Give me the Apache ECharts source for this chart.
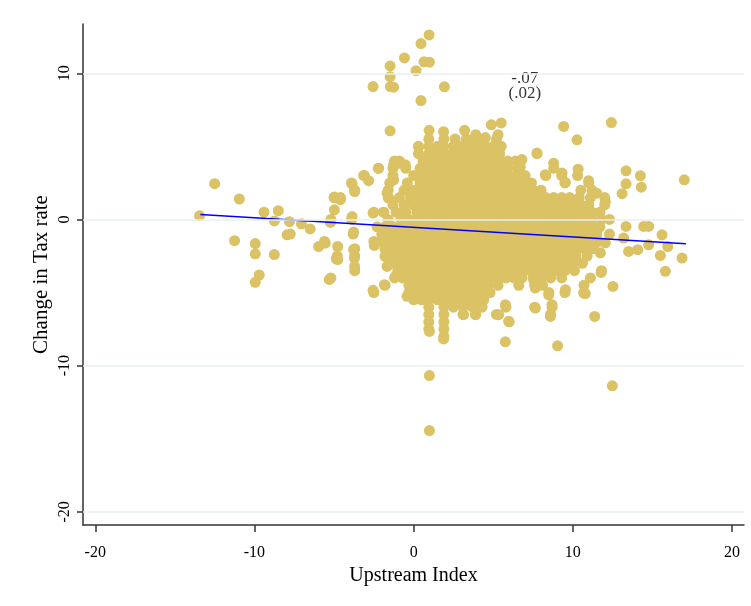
<!DOCTYPE html>
<html>
<head>
<meta charset="utf-8">
<script src="https://cdn.jsdelivr.net/npm/echarts@6/dist/echarts.min.js"></script>
<style>
html,body{margin:0;padding:0;background:#fff;}
#chart{width:751px;height:606px;}
</style>
</head>
<body>
<div id="chart"></div>
<script>
// ---- tick labels ----
const xTicks = [-20, -10, 0, 10, 20];
const yTicks = [-20, -10, 0, 10];

// ---- dense core of the cloud: rows of [y, [x values]] ----
const coreRows = [
  [5.5, [0.95, 1.9, 2.6, 3.3, 3.8, 4.4, 5.2]],
  [5.0, [0.3, 0.95, 1.5, 1.9, 2.5, 3.0, 3.5, 4.0, 4.5, 5.0, 5.5]],
  [4.5, [0.3, 0.95, 1.4, 1.9, 2.4, 2.9, 3.4, 3.9, 4.4, 4.9, 5.4, 7.75]],
  [4.0, [-1.2, -0.9, 0.6, 1.0, 1.5, 1.9, 2.4, 2.9, 3.4, 3.9, 4.4, 4.9, 5.4, 5.9, 6.4]],
  [3.5, [-2.2, -1.3, -0.5, 0.4, 0.9, 1.4, 1.9, 2.4, 2.9, 3.4, 3.9, 4.4, 4.9, 5.4, 5.9, 6.5, 8.8]],
  [3.0, [-3.1, -1.3, 0, 0.5, 1.0, 1.5, 2.0, 2.5, 3.0, 3.5, 4.0, 4.5, 5.0, 5.5, 6.0, 6.5, 7.0, 8.3, 9.3, 10.3]],
  [2.5, [-3.9, -1.5, -0.4, 0.4, 0.9, 1.4, 1.9, 2.4, 2.9, 3.4, 3.9, 4.4, 4.9, 5.4, 5.9, 6.4, 6.9, 7.4, 9.5, 11.0]],
  [2.0, [-3.7, -1.6, -0.6, 0, 0.5, 1.0, 1.5, 2.0, 2.5, 3.0, 3.5, 4.0, 4.5, 5.0, 5.5, 6.0, 6.5, 7.0, 7.5, 8.0, 10.5, 11.2]],
  [1.5, [-5.0, -4.6, -1.6, -0.9, -0.2, 0.3, 0.8, 1.3, 1.8, 2.3, 2.8, 3.3, 3.8, 4.3, 4.8, 5.3, 5.8, 6.3, 6.8, 7.3, 7.8, 8.3, 8.8, 9.3, 9.8, 10.4, 11.1, 12.0]],
  [1.0, [-1.3, -0.6, 0, 0.5, 1.0, 1.5, 2.0, 2.5, 3.0, 3.5, 4.0, 4.5, 5.0, 5.5, 6.0, 6.5, 7.0, 7.5, 8.0, 8.5, 9.0, 9.5, 10.0, 10.5, 11.0, 12.0]],
  [0.5, [-2.5, -1.9, -1.1, -0.5, 0.2, 0.7, 1.2, 1.7, 2.2, 2.7, 3.2, 3.7, 4.2, 4.7, 5.2, 5.7, 6.2, 6.7, 7.2, 7.7, 8.2, 8.7, 9.2, 9.7, 10.2, 10.7, 11.2, 11.7]],
  [0.0, [-5.2, -3.9, -1.6, -0.8, -0.3, 0.2, 0.7, 1.2, 1.7, 2.2, 2.7, 3.2, 3.7, 4.2, 4.7, 5.2, 5.7, 6.2, 6.7, 7.2, 7.7, 8.2, 8.7, 9.2, 9.7, 10.2, 10.7, 11.2, 11.8, 12.3]],
  [-0.5, [-2.3, -1.8, -1.3, -0.8, -0.3, 0.2, 0.7, 1.2, 1.7, 2.2, 2.7, 3.2, 3.7, 4.2, 4.7, 5.2, 5.7, 6.2, 6.7, 7.2, 7.7, 8.2, 8.7, 9.2, 9.7, 10.2, 10.7, 11.2, 11.7]],
  [-1.0, [-3.8, -2.0, -1.5, -1.0, -0.5, 0, 0.5, 1.0, 1.5, 2.0, 2.5, 3.0, 3.5, 4.0, 4.5, 5.0, 5.5, 6.0, 6.5, 7.0, 7.5, 8.0, 8.5, 9.0, 9.5, 10.0, 10.5, 11.0, 11.5, 12.3]],
  [-1.5, [-5.6, -2.5, -2.0, -1.5, -1.0, -0.5, 0, 0.5, 1.0, 1.5, 2.0, 2.5, 3.0, 3.5, 4.0, 4.5, 5.0, 5.5, 6.0, 6.5, 7.0, 7.5, 8.0, 8.5, 9.0, 9.5, 10.0, 10.5, 11.0, 11.6]],
  [-2.0, [-3.7, -1.8, -1.3, -0.8, -0.3, 0.2, 0.7, 1.2, 1.7, 2.2, 2.7, 3.2, 3.7, 4.2, 4.7, 5.2, 5.7, 6.2, 6.7, 7.2, 7.7, 8.2, 8.7, 9.2, 9.7, 10.2, 10.7, 11.3]],
  [-2.5, [-4.8, -3.7, -1.8, -1.3, -0.8, -0.3, 0.2, 0.7, 1.2, 1.7, 2.2, 2.7, 3.2, 3.7, 4.2, 4.7, 5.2, 5.7, 6.2, 6.7, 7.2, 7.7, 8.2, 8.7, 9.2, 9.7, 10.2, 10.9]],
  [-3.0, [-1.5, -1.0, -0.5, 0, 0.5, 1.0, 1.5, 2.0, 2.5, 3.0, 3.5, 4.0, 4.5, 5.0, 5.5, 6.0, 6.5, 7.0, 7.5, 8.0, 8.5, 9.0, 9.5, 10.0, 10.6]],
  [-3.5, [-3.7, -1.0, -0.5, 0, 0.5, 1.0, 1.5, 2.0, 2.5, 3.0, 3.5, 4.0, 4.5, 5.0, 5.5, 6.0, 6.5, 7.0, 7.5, 8.0, 8.5, 9.0, 9.5, 10.1, 11.8]],
  [-4.0, [-5.2, -1.2, -0.7, -0.2, 0.3, 0.8, 1.3, 1.8, 2.3, 2.8, 3.3, 3.8, 4.3, 4.8, 5.3, 5.8, 6.3, 6.8, 7.5, 8.0, 8.6, 9.3, 11.1]],
  [-4.5, [-1.8, -0.3, 0.2, 0.7, 1.2, 1.7, 2.2, 2.7, 3.2, 3.7, 4.2, 4.7, 5.3, 6.6, 7.6, 8.1, 10.7]],
  [-5.0, [-2.5, -0.3, 0.2, 0.7, 1.2, 1.7, 2.2, 2.7, 3.2, 3.7, 4.2, 4.8, 8.5, 9.5, 10.7]],
  [-5.5, [0.0, 0.5, 0.95, 1.5, 1.9, 2.4, 2.9, 3.4, 3.9, 4.4]],
  [-6.0, [0.95, 1.9, 2.5, 3.1, 3.7, 4.3, 5.8, 7.6, 8.7]],
  [-6.5, [0.95, 1.9, 3.1, 3.9, 5.2, 8.6]],
  [-7.0, [0.95, 1.9, 6.0]],
  [-7.5, [0.95, 1.9]],
  [-8.0, [1.9]]
];

// ---- scattered observations outside the core ----
const leftPoints = [
  [-13.45, 0.25], [-12.5, 2.45], [-10.95, 1.4], [-11.25, -1.45], [-9.95, -1.65], [-9.95, -2.35],
  [-9.7, -3.8], [-9.95, -4.3], [-9.4, 0.5], [-8.5, 0.6], [-8.75, -0.1], [-8.75, -2.4],
  [-7.8, -0.15], [-7.95, -1.05], [-7.75, -1.0], [-7.05, -0.3], [-6.5, -0.65], [-5.97, -1.85],
  [-5.55, -1.61], [-5.3, -4.1], [-4.98, 1.53], [-4.6, 1.35], [-4.98, 0.66], [-5.23, -0.2],
  [-4.77, -1.85], [-4.86, -2.69], [-4.77, -2.75], [-3.87, 0.2], [-3.77, -0.86], [-3.77, -2.07],
  [-3.72, -2.64], [-3.71, -3.21], [-3.87, 2.42], [-3.71, 1.91], [-3.14, 3.01], [-2.83, 2.65],
  [-2.22, 3.51], [-2.55, 0.44], [-1.88, 0.5], [-2.47, -1.78], [-1.98, -1.07], [-1.67, 1.8],
  [-1.57, 1.46], [-1.26, 3.74], [-0.94, 3.85], [-0.52, 3.74], [-1.26, 2.71], [-1.78, -2.53],
  [-1.67, -3.21], [-1.46, -2.98], [-1.15, -3.9], [-0.73, -3.66], [-2.55, -4.85], [-1.84, -4.46],
  [-0.42, -5.26], [-0.17, -4.69]
];
const topPoints = [
  [0.97, 12.62], [0.46, 12.03], [-0.58, 11.05], [-1.48, 10.5], [-1.48, 9.77], [-1.46, 9.09],
  [-1.26, 9.05], [-2.55, 9.09], [0.15, 10.18], [0.65, 10.78], [0.99, 10.76], [1.93, 9.07],
  [0.46, 8.13], [-1.48, 6.06], [0.31, 4.95], [0.97, 6.1], [1.88, 6.0], [3.2, 6.1],
  [3.9, 5.8], [4.5, 5.6], [4.88, 6.47], [5.5, 6.6], [5.3, 5.8]
];
const rightPoints = [
  [9.42, 6.36], [10.26, 5.45], [12.42, 6.63], [7.75, 4.54], [8.79, 3.85], [8.27, 3.06],
  [9.32, 3.17], [9.53, 2.53], [10.33, 3.44], [10.99, 2.65], [13.34, 3.33], [14.24, 2.99],
  [14.3, 2.21], [13.34, 2.44], [13.09, 1.76], [17.0, 2.71], [12.04, 1.19], [11.5, 1.8],
  [6.8, 4.1], [6.7, 3.6], [13.34, -0.48], [14.45, -0.48], [14.76, -0.48], [15.6, -1.05],
  [13.19, -1.27], [13.5, -2.19], [14.07, -2.07], [14.76, -1.73], [15.5, -2.46], [15.96, -1.85],
  [16.86, -2.64], [15.81, -3.55], [11.77, -3.62], [12.52, -4.58], [10.78, -5.08], [11.37, -6.63],
  [12.04, -1.6], [11.73, -2.28]
];
const bottomPoints = [
  [12.48, -11.38], [9.04, -8.64], [5.76, -8.37], [0.99, -10.68], [0.99, -14.44], [8.59, -6.63],
  [7.64, -6.06], [8.69, -5.83], [8.48, -5.15], [7.64, -4.69], [7.54, -4.12], [9.53, -4.8],
  [10.68, -5.03], [5.97, -6.97], [5.34, -6.51], [5.76, -5.83], [3.88, -6.51], [3.14, -6.51],
  [0.99, -7.66], [1.88, -8.17]
];

// ---- fitted line and its annotation ----
const fitLine = [[-13.4, 0.34], [17.1, -1.66]];
const slopeText = ['-.07', '(.02)'];
const slopePos = [[6.98, 9.62], [6.98, 8.59]];

// ---- build point list ----
const corePoints = [];
coreRows.forEach(function (r) { r[1].forEach(function (x) { corePoints.push([x, r[0]]); }); });
const allPoints = corePoints.concat(leftPoints, topPoints, rightPoints, bottomPoints);

const serif = '"Liberation Serif", "DejaVu Serif", serif';
const chart = echarts.init(document.getElementById('chart'), null, { renderer: 'canvas' });
chart.setOption({
  animation: false,
  backgroundColor: '#ffffff',
  grid: { left: 83, right: 7, top: 24, bottom: 81, containLabel: false },
  xAxis: {
    type: 'value', min: -20.77, max: 20.75,
    name: 'Upstream Index', nameLocation: 'middle', nameGap: 37,
    nameTextStyle: { fontFamily: serif, fontSize: 20, color: '#000' },
    axisLine: { show: true, onZero: false, lineStyle: { color: '#333', width: 1.5 } },
    axisTick: { show: true, length: 7, lineStyle: { color: '#333', width: 1.5 }, customValues: xTicks },
    axisLabel: { fontFamily: serif, fontSize: 16, color: '#000', margin: 20, customValues: xTicks },
    splitLine: { show: false }
  },
  yAxis: {
    type: 'value', min: -20.9, max: 13.37,
    name: 'Change in Tax rate', nameLocation: 'middle', nameGap: 31, nameMoveOverlap: false,
    nameTextStyle: { fontFamily: serif, fontSize: 21, color: '#000' },
    axisLine: { show: true, onZero: false, lineStyle: { color: '#333', width: 1.5 } },
    axisTick: { show: true, length: 6, lineStyle: { color: '#333', width: 1.5 }, customValues: yTicks },
    axisLabel: { fontFamily: serif, fontSize: 16, color: '#000', margin: 10, rotate: 90, customValues: yTicks },
    splitLine: { show: false }
  },
  series: [
    {
      type: 'scatter', data: [], z: 1, silent: true,
      markLine: {
        silent: true, symbol: ['none', 'none'], label: { show: false },
        lineStyle: { color: '#e9f0f2', width: 1.6, type: 'solid' },
        data: yTicks.map(function (v) { return { yAxis: v }; })
      }
    },
    {
      type: 'scatter', data: allPoints, symbol: 'circle', symbolSize: 11, z: 2,
      itemStyle: { color: '#dac265', opacity: 1 }
    },
    {
      type: 'line', data: fitLine, symbol: 'none', z: 3,
      lineStyle: { color: '#0000ff', width: 1.6 }
    },
    {
      type: 'scatter', symbolSize: 0, z: 4,
      data: slopePos.map(function (p, i) { return { value: p, name: slopeText[i] }; }),
      label: {
        show: true, position: 'inside', formatter: function (p) { return p.name; },
        fontFamily: serif, fontSize: 17, color: '#000'
      }
    }
  ]
});
</script>
</body>
</html>
